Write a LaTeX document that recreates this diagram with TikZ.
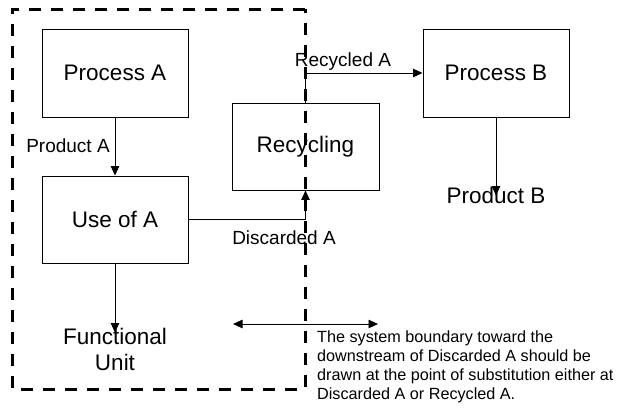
\documentclass[tikz,border=0pt]{standalone}
\usepackage{fontspec}
\setmainfont{Liberation Sans}
\usetikzlibrary{arrows.meta, positioning}

\tikzset{
    procbox/.style={draw, line width=0.9pt, minimum width=146pt, minimum height=88pt,
                    font=\fontsize{22.5}{27}\selectfont},
    flowlabel/.style={font=\fontsize{19}{22}\selectfont, inner sep=0pt},
    tip/.tip={Triangle[length=9.5pt, width=8.5pt]},
    flow/.style={line width=0.9pt, -tip},
    boundary/.style={line width=3pt, dash pattern=on 12pt off 10pt}
}

\begin{document}
\begin{tikzpicture}[x=1pt, y=-1pt]
    \useasboundingbox (0,0) rectangle (623,408);

    % System boundary
    \draw[boundary] (305,9) -- (12,9) -- (12,389) -- (305,389) -- cycle;

    % Process boxes
    \node[procbox] (procA) at (115,73) {Process A};
    \node[procbox, minimum height=87pt] (useA) at (115,219.5) {Use of A};
    \node[procbox, minimum width=147pt, minimum height=87pt] (recyc) at (305.5,146.5) {Recycling};
    \node[procbox] (procB) at (496,73) {Process B};

    % Outputs
    \node[font=\fontsize{22.5}{27}\selectfont, inner sep=0pt] (prodB) at (496,195) {Product B};
    \node[font=\fontsize{22.5}{26}\selectfont, align=center, inner sep=0pt] (func) at (115,349) {Functional\\Unit};

    % Flows
    \draw[flow] (procA) -- (useA);
    \draw[flow] (useA.east) -| (recyc.south);
    \draw[flow] (recyc.north) |- (procB.west);
    \draw[flow] (procB) -- ([yshift=-9pt]prodB.north);
    \draw[flow] (useA) -- ([yshift=-5pt]func.north);

    % Flow labels
    \node[flowlabel] (lblProdA) at (68,146) {Product A};
    \node[flowlabel] (lblDisc) at (284,238) {Discarded A};
    \node[flowlabel] (lblRecyc) at (343,62) {Recycled A};

    % Point of substitution
    \coordinate (subL) at (233,324);
    \coordinate (subR) at (378,324);
    \draw[line width=0.9pt, tip-tip] (subL) -- (subR);
    \node[font=\fontsize{16.2}{19}\selectfont, align=left, anchor=north west, inner sep=0pt] (note) at (317,331)
        {The system boundary toward the\\downstream of Discarded A should be\\drawn at the point of substitution either at\\Discarded A or Recycled A.};
\end{tikzpicture}
\end{document}
